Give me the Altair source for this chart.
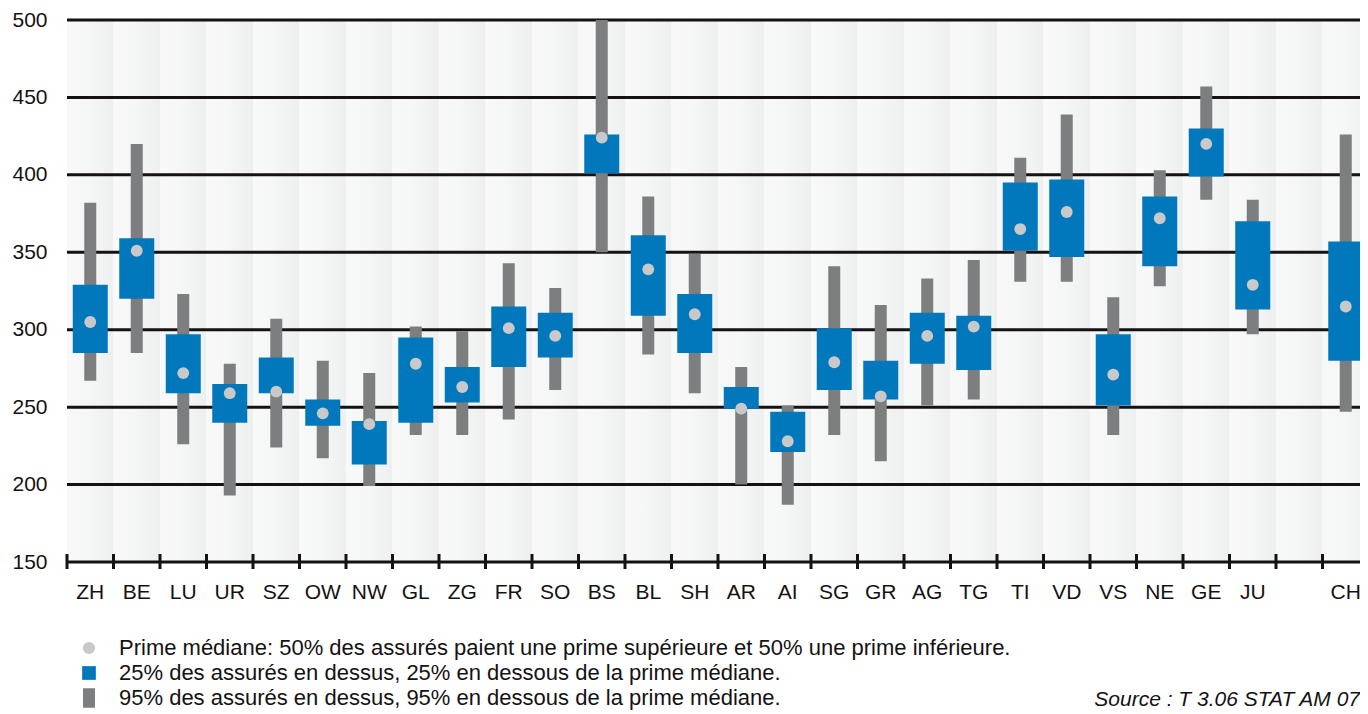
import altair as alt
import pandas as pd

# ---------------- data ----------------
cantons = ["ZH", "BE", "LU", "UR", "SZ", "OW", "NW", "GL", "ZG", "FR", "SO", "BS", "BL",
           "SH", "AR", "AI", "SG", "GR", "AG", "TG", "TI", "VD", "VS", "NE", "GE", "JU", "CH"]
gap_label = " "
x_domain = cantons[:-1] + [gap_label] + [cantons[-1]]

p_low = [267, 285, 226, 193, 224, 217, 199, 232, 232, 242, 261, 350, 284,
         259, 200, 187, 232, 215, 251, 255, 331, 331, 232, 328, 384, 297, 247]
q_low = [285, 320, 259, 240, 259, 238, 213, 240, 253, 276, 282, 401, 309,
         285, 249, 221, 261, 255, 278, 274, 351, 347, 251, 341, 399, 313, 280]
median = [305, 351, 272, 259, 260, 246, 239, 278, 263, 301, 296, 424, 339,
          310, 249, 228, 279, 257, 296, 302, 365, 376, 271, 372, 420, 329, 315]
q_high = [329, 359, 297, 265, 282, 255, 241, 295, 276, 315, 311, 426, 361,
          323, 263, 247, 301, 280, 311, 309, 395, 397, 297, 386, 430, 370, 357]
p_high = [382, 420, 323, 278, 307, 280, 272, 302, 299, 343, 327, 500, 386,
          349, 276, 251, 341, 316, 333, 345, 411, 439, 321, 403, 457, 384, 426]

y_ticks = [150, 200, 250, 300, 350, 400, 450, 500]

legend_labels = [
    "Prime médiane: 50% des assurés paient une prime supérieure et 50% une prime inférieure.",
    "25% des assurés en dessus, 25% en dessous de la prime médiane.",
    "95% des assurés en dessus, 95% en dessous de la prime médiane.",
]
source_text = ["Source : T 3.06 STAT AM 07"]

# ---------------- styles ----------------
FONT = "Liberation Sans"
BLUE = "#0078bb"
GRAY = "#7d7e80"
DOT = "#c9c9c9"
INK = "#141212"
W, H = 1293, 542

df = pd.DataFrame({"canton": cantons, "p_low": p_low, "q_low": q_low,
                   "median": median, "q_high": q_high, "p_high": p_high})
bands = pd.DataFrame({"canton": x_domain})
grid = pd.DataFrame({"v": y_ticks})
leg = pd.DataFrame({"item": legend_labels})
src = pd.DataFrame({"t": source_text})

xscale = alt.Scale(domain=x_domain, range=[0, 1302], paddingInner=0, paddingOuter=0)
yscale = alt.Scale(domain=[150, 500], nice=False, zero=False)

x_axis = alt.Axis(title=None, ticks=False, tickSize=0, domain=False, grid=False,
                  labelFont=FONT, labelFontSize=21, labelColor=INK, labelPadding=19,
                  labelAngle=0)
y_axis = alt.Axis(title=None, ticks=False, tickSize=0, domain=False, grid=False,
                  values=y_ticks, labelFont=FONT, labelFontSize=21, labelColor=INK,
                  labelPadding=20)

X = alt.X("canton:N", scale=xscale, axis=x_axis, sort=x_domain)

stripes = alt.Chart(bands).mark_rect(
    color={"gradient": "linear", "x1": 0, "x2": 1, "y1": 0, "y2": 0,
           "stops": [{"offset": 0, "color": "#f9f9f9"},
                     {"offset": 0.45, "color": "#f5f6f6"},
                     {"offset": 1, "color": "#eeefef"}]}
).encode(x=X)

gridlines = alt.Chart(grid).mark_rule(color=INK, strokeWidth=3).encode(
    y=alt.Y("v:Q", scale=yscale, axis=y_axis)
)

ticks = alt.Chart(bands).mark_rule(color=INK, strokeWidth=3).encode(
    x=alt.X("canton:N", scale=xscale, axis=x_axis, sort=x_domain, bandPosition=0),
    y=alt.value(H - 8), y2=alt.value(H + 7)
)

whisk = alt.Chart(df).mark_bar(color=GRAY, width=12).encode(
    x=X, y=alt.Y("p_low:Q", scale=yscale, axis=y_axis), y2="p_high:Q"
)
box = alt.Chart(df).mark_bar(color=BLUE, width=35).encode(
    x=X, y=alt.Y("q_low:Q", scale=yscale, axis=y_axis), y2="q_high:Q"
)
dots = alt.Chart(df).mark_circle(color=DOT, size=140, opacity=1).encode(
    x=X, y=alt.Y("median:Q", scale=yscale, axis=y_axis)
)

legend = alt.Legend(orient="none", legendX=11, legendY=617, title=None,
                    labelFont=FONT, labelFontSize=22, labelColor=INK,
                    labelOffset=19, rowPadding=3, labelLimit=0,
                    direction="vertical", symbolOpacity=1, symbolStrokeWidth=0)
leg_layer = alt.Chart(leg).mark_point(filled=True, opacity=0).encode(
    color=alt.Color("item:N", scale=alt.Scale(domain=legend_labels, range=[DOT, BLUE, GRAY]),
                    legend=legend),
    shape=alt.Shape("item:N", scale=alt.Scale(domain=legend_labels,
                    range=["circle", "square", "M-0.8,-1.3H0.8V1.3H-0.8Z"]), legend=legend),
    size=alt.Size("item:N", scale=alt.Scale(domain=legend_labels, range=[150, 225, 225]),
                  legend=legend),
)

source = alt.Chart(src).mark_text(font=FONT, fontSize=21, fontStyle="italic",
                                  align="right", baseline="alphabetic", color=INK).encode(
    text="t:N", x=alt.value(W), y=alt.value(H + 144)
)

chart = alt.layer(stripes, gridlines, ticks, whisk, box, dots, leg_layer, source).properties(
    width=W, height=H,
    autosize=alt.AutoSizeParams(type="none"),
    padding={"left": 59, "top": 12, "right": 0, "bottom": 152},
).configure_view(stroke=None)

chart.save("out.html", embed_options={"renderer": "svg", "actions": False})
